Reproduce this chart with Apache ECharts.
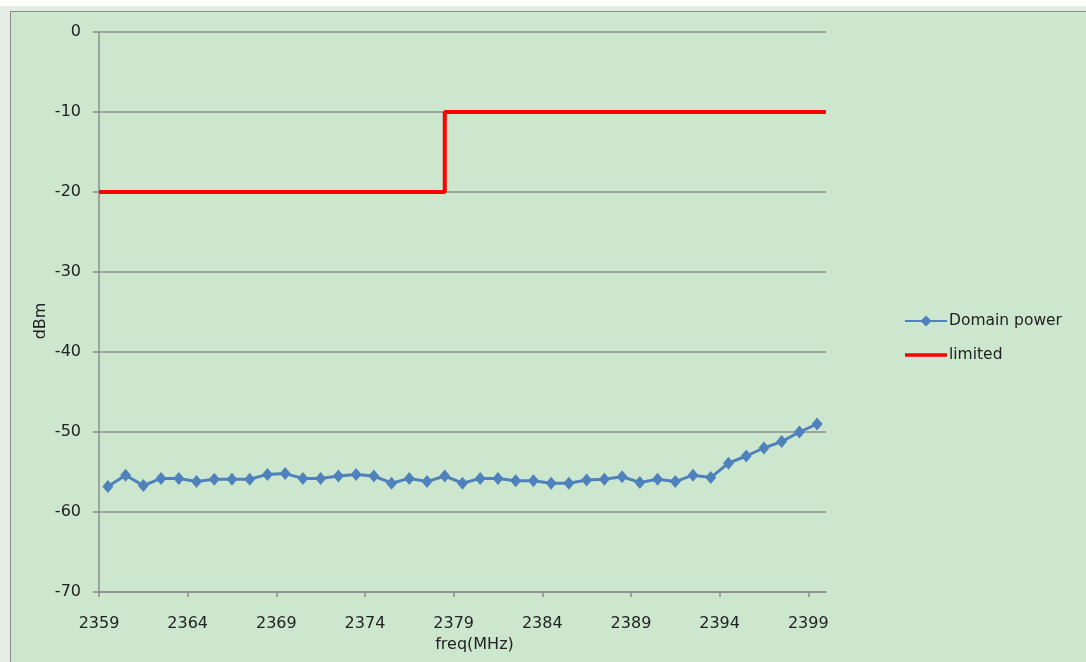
<!DOCTYPE html>
<html>
<head>
<meta charset="utf-8">
<script src="https://cdn.jsdelivr.net/npm/echarts@6/dist/echarts.min.js"></script>
<style>
  html, body { margin: 0; padding: 0; width: 1086px; height: 662px; overflow: hidden;
    background: linear-gradient(#ffffff 0, #ffffff 6px, #e4ece4 6px); }
  #chart { position: absolute; left: 10px; top: 11px; width: 1075px; height: 650px;
    border-top: 1px solid #8a8a8a; border-left: 1px solid #8a8a8a; background: #cde7cf; }
</style>
</head>
<body>
<div id="chart"></div>
<script>
// ---- data ----
const freqs = [2359,2360,2361,2362,2363,2364,2365,2366,2367,2368,2369,2370,2371,2372,2373,2374,2375,2376,2377,2378,
               2379,2380,2381,2382,2383,2384,2385,2386,2387,2388,2389,2390,2391,2392,2393,2394,2395,2396,2397,2398,2399];
const domainPower = [-56.8,-55.4,-56.7,-55.8,-55.8,-56.2,-55.9,-55.9,-55.9,-55.3,-55.2,-55.8,-55.8,-55.5,-55.3,-55.5,-56.4,-55.8,-56.2,-55.5,
                     -56.4,-55.8,-55.8,-56.1,-56.1,-56.4,-56.4,-56.0,-55.9,-55.6,-56.3,-55.9,-56.2,-55.4,-55.7,-53.9,-53.0,-52.0,-51.2,-50.0,-49.0];
const limitFreq = [2358.5, 2378, 2378, 2399.5];
const limitValues = [-20, -20, -10, -10];
const tickFreqs = [2359, 2364, 2369, 2374, 2379, 2384, 2389, 2394, 2399];
const tickLabels = ['2359','2364','2369','2374','2379','2384','2389','2394','2399'];
const seriesNames = ['Domain power', 'limited'];

// Excel category axis: labels sit on the left boundary of their category
const tickPos = tickFreqs.map(f => f - 0.5);
const font = 'DejaVu Sans';

const chart = echarts.init(document.getElementById('chart'));
chart.setOption({
  animation: false,
  backgroundColor: '#cde7cf',
  grid: { left: 88, top: 20, right: 260, bottom: 70, containLabel: false },
  legend: {
    orient: 'vertical', left: 888, top: 296,
    itemWidth: 42, itemHeight: 14, itemGap: 18,
    textStyle: { fontFamily: font, fontSize: 15.5, color: '#222', padding: [0, 0, 0, -3] },
    data: [
      { name: seriesNames[0] },
      { name: seriesNames[1], icon: 'path://M0,0H100V8H0Z' }
    ]
  },
  xAxis: {
    type: 'value', min: freqs[0] - 0.5, max: freqs[freqs.length - 1] + 0.5,
    name: 'freq(MHz)', nameLocation: 'middle', nameGap: 45, nameMoveOverlap: false,
    nameTextStyle: { fontFamily: font, fontSize: 16, color: '#222', padding: [0, 0, 0, 24] },
    axisLine: { onZero: false, lineStyle: { color: '#8c8c8c', width: 1.5 } },
    axisTick: { show: true, length: 5, customValues: tickPos, lineStyle: { color: '#8c8c8c', width: 1.5 } },
    axisLabel: {
      customValues: tickPos, margin: 24,
      fontFamily: font, fontSize: 16, color: '#222',
      formatter: v => { const i = tickPos.findIndex(p => Math.abs(p - v) < 1e-6); return i >= 0 ? tickLabels[i] : ''; }
    },
    splitLine: { show: false }
  },
  yAxis: {
    type: 'value', min: -70, max: 0, interval: 10,
    name: 'dBm', nameLocation: 'middle', nameGap: 50, nameRotate: 90, nameMoveOverlap: false,
    nameTextStyle: { fontFamily: font, fontSize: 16, color: '#222', padding: [0, 18, 0, 0] },
    axisLine: { show: true, onZero: false, lineStyle: { color: '#8c8c8c', width: 1.5 } },
    axisTick: { show: true, length: 6, lineStyle: { color: '#8c8c8c', width: 1.5 } },
    axisLabel: { margin: 18, fontFamily: font, fontSize: 16, color: '#222' },
    splitLine: { show: true, lineStyle: { color: '#8c8c8c', width: 1.5 } }
  },
  series: [
    {
      name: seriesNames[0], type: 'line',
      data: freqs.map((f, i) => [f, domainPower[i]]),
      symbol: 'diamond', symbolSize: [11, 13], showSymbol: true,
      itemStyle: { color: '#4f81bd' },
      lineStyle: { color: '#4f81bd', width: 3 }
    },
    {
      name: seriesNames[1], type: 'line',
      data: limitFreq.map((f, i) => [f, limitValues[i]]),
      symbol: 'none',
      itemStyle: { color: '#ff0000' },
      lineStyle: { color: '#ff0000', width: 4 }
    }
  ]
});
</script>
</body>
</html>
